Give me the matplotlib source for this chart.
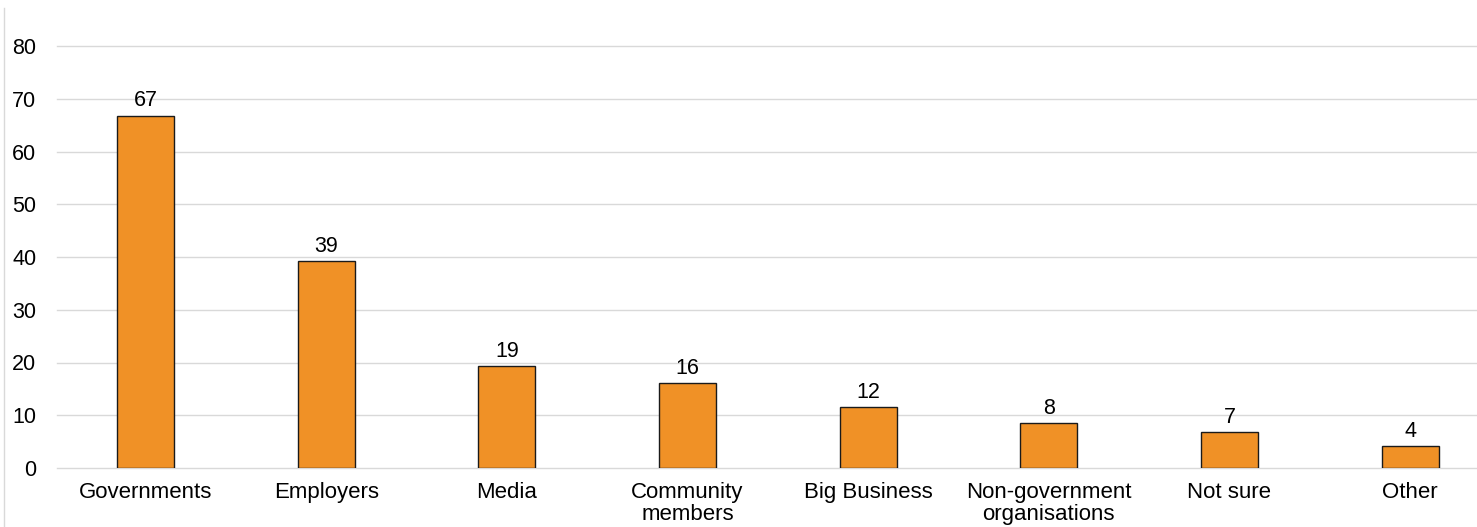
import matplotlib
matplotlib.use("Agg")
import matplotlib.pyplot as plt
from matplotlib.lines import Line2D

categories = ["Governments", "Employers", "Media", "Community\nmembers", "Big Business",
              "Non-government\norganisations", "Not sure", "Other"]
values = [66.8, 39.3, 19.3, 16.1, 11.6, 8.5, 6.8, 4.2]
labels = ["67", "39", "19", "16", "12", "8", "7", "4"]
yticks = [0, 10, 20, 30, 40, 50, 60, 70, 80]

plt.rcParams['font.family'] = ['Liberation Sans', 'DejaVu Sans']

fig = plt.figure(figsize=(14.77, 5.27), dpi=100)
ax = fig.add_axes([57/1477, 1-468/527, 1-57/1477, (468-46)/527])

x = list(range(len(categories)))
bars = ax.bar(x, values, width=0.315, color="#F09126", edgecolor="#1a1a1a", linewidth=1.0, zorder=3)
for xi, v, lab in zip(x, values, labels):
    ax.annotate(lab, (xi, v), xytext=(0, 3), textcoords="offset points",
                ha="center", va="bottom", fontsize=15.5, color="#000000")

ax.set_xlim(-0.49, 7.37)
ax.set_ylim(0, 80)
ax.set_yticks(yticks)
ax.set_xticks(x)
ax.set_xticklabels(categories, fontsize=16, linespacing=1.05)
ax.tick_params(axis='y', labelsize=15.5, length=0, pad=15)
ax.tick_params(axis='x', length=0, pad=10)
ax.grid(axis='y', color="#D9D9D9", linewidth=1.0, zorder=0)
for gl in ax.get_ygridlines():
    gl.set_clip_on(False)
for s in ax.spines.values():
    s.set_visible(False)

fig.add_artist(Line2D([4/1477, 4/1477], [0, 1-8/527], transform=fig.transFigure,
                      color="#D9D9D9", linewidth=1.0))

fig.savefig("out.png", dpi=100)
